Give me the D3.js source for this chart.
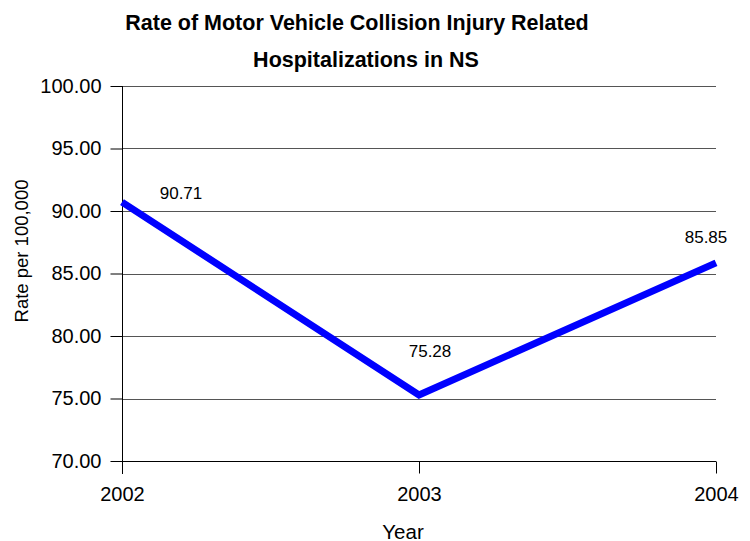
<!DOCTYPE html>
<html>
<head>
<meta charset="utf-8">
<script src="https://cdn.jsdelivr.net/npm/d3@7"></script>
<style>
  html, body { margin: 0; padding: 0; background: #fff; }
  svg text { font-family: Arial, "Liberation Sans", sans-serif; fill: #000; }
</style>
</head>
<body>
<div id="chart"></div>
<script>
// Data
const years = ['2002', '2003', '2004'];
const rates = [90.71, 75.28, 85.85];
const yTicks = [70, 75, 80, 85, 90, 95, 100];
// label nudges (dx, dy) relative to each point, Excel-style placement
const labelOffsets = [[59, -3], [11, -38], [-10, -20]];

const W = 750, H = 541;
const margin = { top: 86, right: 34, bottom: 80, left: 122 };
const width = W - margin.left - margin.right;
const height = H - margin.top - margin.bottom;

const svg = d3.select('#chart').append('svg')
  .attr('width', W)
  .attr('height', H);

const g = svg.append('g')
  .attr('transform', `translate(${margin.left},${margin.top})`);

// Scales
const x = d3.scalePoint()
  .domain(years)
  .range([0, width]);

const y = d3.scaleLinear()
  .domain([70, 100])
  .range([height, 0]);

// Grid
g.append('g')
  .attr('class', 'grid')
  .selectAll('line')
  .data(yTicks.filter(d => d > 70))
  .join('line')
  .attr('x1', 0)
  .attr('x2', width)
  .attr('y1', d => Math.round(y(d)) + 0.5)
  .attr('y2', d => Math.round(y(d)) + 0.5)
  .attr('stroke', '#555')
  .attr('stroke-width', 1);

// Y axis
const yAxis = g.append('g')
  .attr('transform', 'translate(0.5,0)')
  .call(d3.axisLeft(y)
    .tickValues(yTicks)
    .tickFormat(d3.format('.2f'))
    .tickSize(12)
    .tickPadding(9));
yAxis.select('.domain').remove();
yAxis.selectAll('line').attr('stroke', '#000');
yAxis.selectAll('text').attr('font-size', 20);

// vertical axis line (runs down past the x axis)
g.append('line')
  .attr('x1', 0.5).attr('x2', 0.5)
  .attr('y1', 0).attr('y2', height + 13)
  .attr('stroke', '#000');

// X axis
const xAxis = g.append('g')
  .attr('transform', `translate(0,${Math.round(height) + 0.5})`)
  .call(d3.axisBottom(x).tickSize(12).tickPadding(13));
xAxis.select('.domain').attr('d', `M0,0H${width}`).attr('stroke', '#000');
xAxis.selectAll('line').attr('stroke', '#000');
xAxis.selectAll('text').attr('font-size', 20);

// Axis titles
svg.append('text')
  .attr('x', 403)
  .attr('y', 539)
  .attr('text-anchor', 'middle')
  .attr('font-size', 20.5)
  .text('Year');

svg.append('text')
  .attr('transform', 'rotate(-90)')
  .attr('x', -251)
  .attr('y', 28)
  .attr('text-anchor', 'middle')
  .attr('font-size', 18.5)
  .text('Rate per 100,000');

// Title
const title = svg.append('text')
  .attr('text-anchor', 'middle')
  .attr('font-size', 21.5)
  .attr('font-weight', 'bold');
title.append('tspan').attr('x', 357).attr('y', 30)
  .text('Rate of Motor Vehicle Collision Injury Related');
title.append('tspan').attr('x', 366).attr('y', 67)
  .text('Hospitalizations in NS');

// Line
const line = d3.line()
  .x((d, i) => x(years[i]))
  .y(d => y(d));

g.append('path')
  .datum(rates)
  .attr('fill', 'none')
  .attr('stroke', '#0000ff')
  .attr('stroke-width', 7)
  .attr('stroke-linejoin', 'miter')
  .attr('d', line);

// Data labels
g.selectAll('.label')
  .data(rates)
  .join('text')
  .attr('class', 'label')
  .attr('x', (d, i) => x(years[i]) + labelOffsets[i][0])
  .attr('y', (d, i) => y(d) + labelOffsets[i][1])
  .attr('text-anchor', 'middle')
  .attr('font-size', 17)
  .text(d => d.toFixed(2));
</script>
</body>
</html>
